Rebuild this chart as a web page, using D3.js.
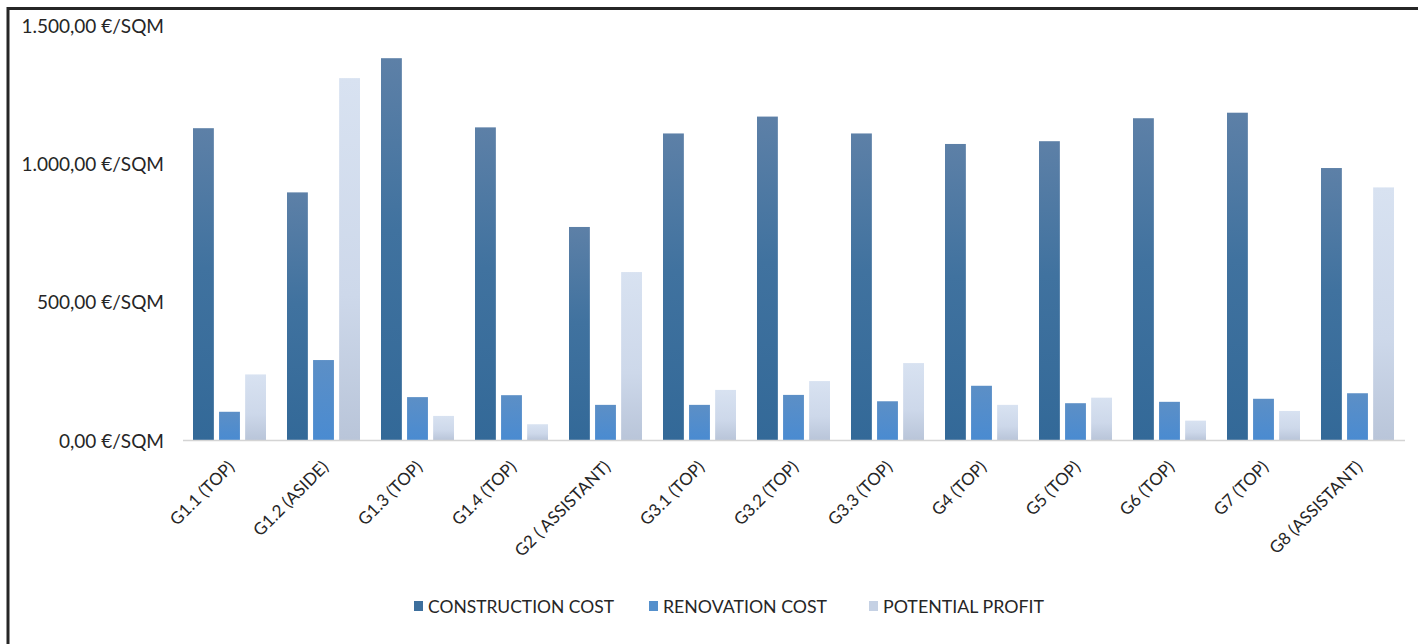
<!DOCTYPE html>
<html>
<head>
<meta charset="utf-8">
<script src="https://cdnjs.cloudflare.com/ajax/libs/d3/7.8.5/d3.min.js"></script>
<style>
  html, body { margin: 0; padding: 0; background: #ffffff; }
  svg { display: block; }
</style>
</head>
<body>
<script>
// ---- data ----
const categories = ["G1.1 (TOP)", "G1.2 (ASIDE)", "G1.3 (TOP)", "G1.4 (TOP)", "G2 ( ASSISTANT)",
  "G3.1  (TOP)", "G3.2 (TOP)", "G3.3 (TOP)", "G4 (TOP)", "G5 (TOP)", "G6 (TOP)", "G7 (TOP)", "G8 (ASSISTANT)"];
const seriesNames = ["CONSTRUCTION COST", "RENOVATION COST", "POTENTIAL PROFIT"];
const constructionCost = [1127, 895, 1380, 1130, 770, 1108, 1169, 1108, 1070, 1080, 1163, 1183, 983];
const renovationCost   = [102, 289, 155, 162, 127, 127, 163, 140, 196, 133, 138, 149, 169];
const potentialProfit  = [237, 1308, 87, 57, 607, 181, 213, 278, 127, 153, 70, 105, 913];
const yTicks = [0, 500, 1000, 1500];

const seriesValues = [constructionCost, renovationCost, potentialProfit];

// ---- layout ----
const W = 1418, H = 644;
const svg = d3.select("body").append("svg").attr("width", W).attr("height", H);

const defs = svg.append("defs");
const gradStops = [
  [["0%", "#5d80a7"], ["45%", "#40729f"], ["100%", "#336998"]],
  [["0%", "#5c8fc6"], ["100%", "#4a8bd1"]],
  [["0%", "#d8e2f1"], ["60%", "#cdd8ea"], ["100%", "#b9c5d9"]]
];
gradStops.forEach((stops, i) => {
  const g = defs.append("linearGradient").attr("id", "grad" + i)
    .attr("x1", 0).attr("y1", 0).attr("x2", 0).attr("y2", 1);
  stops.forEach(s => g.append("stop").attr("offset", s[0]).attr("stop-color", s[1]));
});
const legendColors = ["#3d6f9d", "#5590cc", "#c5d1e4"];

const x = d3.scaleBand().domain(categories).range([182.5, 1404.5]).padding(0);
const xInner = d3.scaleBand().domain(d3.range(seriesNames.length)).range([10.5, 83.5]).paddingInner(0.2);
const y = d3.scaleLinear().domain([0, 1500]).range([440, 25]);

const loc = d3.formatLocale({decimal: ",", thousands: ".", grouping: [3], currency: ["", "€"]});
const fmt = loc.format(",.2f");

// frame (top and left lines)
svg.append("line").attr("x1", 8).attr("x2", W).attr("y1", 8.5).attr("y2", 8.5)
  .attr("stroke", "#262626").attr("stroke-width", 3);
svg.append("line").attr("x1", 8).attr("x2", 8).attr("y1", 7).attr("y2", H)
  .attr("stroke", "#262626").attr("stroke-width", 3);

// y axis labels
const yAxis = d3.axisLeft(y).tickValues(yTicks).tickSize(0).tickPadding(0)
  .tickFormat(d => fmt(d) + " €/SQM");
const gy = svg.append("g").attr("transform", "translate(164,1)").call(yAxis);
gy.select(".domain").remove();
gy.selectAll("text").attr("font-family", "Lato, 'Noto Sans', sans-serif")
  .attr("font-size", 19).attr("fill", "#262626");

// bars
const groups = svg.append("g").selectAll("g").data(categories).join("g")
  .attr("transform", d => `translate(${x(d)},0)`);
groups.selectAll("rect").data((d, i) => seriesValues.map((vals, s) => ({s, v: vals[i]})))
  .join("rect")
  .attr("x", d => xInner(d.s))
  .attr("width", xInner.bandwidth())
  .attr("y", d => y(d.v))
  .attr("height", d => y(0) - y(d.v))
  .attr("fill", d => `url(#grad${d.s})`);

// baseline
const gx = svg.append("g").attr("transform", `translate(0,${y(0)})`)
  .call(d3.axisBottom(x).tickSize(0).tickFormat(""));
gx.select(".domain").attr("stroke", "#d4d4d4").attr("stroke-width", 1.5);

// x labels
svg.append("g").selectAll("text").data(categories).join("text")
  .attr("transform", d => `translate(${x(d) + x.bandwidth() / 2 + 6},468) rotate(-45)`)
  .attr("text-anchor", "end")
  .attr("font-family", "Lato, 'Noto Sans', sans-serif")
  .attr("font-size", 17)
  .attr("fill", "#262626")
  .text(d => d);

// legend
const legendX = [414, 649, 869];
const legendW = [186, 164, 161];
const lg = svg.append("g").selectAll("g").data(seriesNames).join("g")
  .attr("transform", (d, i) => `translate(${legendX[i]},0)`);
lg.append("rect").attr("x", 0).attr("y", 601).attr("width", 9).attr("height", 10)
  .attr("fill", (d, i) => legendColors[i]);
lg.append("text").attr("x", 14).attr("y", 613)
  .attr("font-family", "Lato, 'Noto Sans', sans-serif")
  .attr("font-size", 18)
  .attr("fill", "#262626")
  .attr("textLength", (d, i) => legendW[i])
  .attr("lengthAdjust", "spacingAndGlyphs")
  .text(d => d);
</script>
</body>
</html>
